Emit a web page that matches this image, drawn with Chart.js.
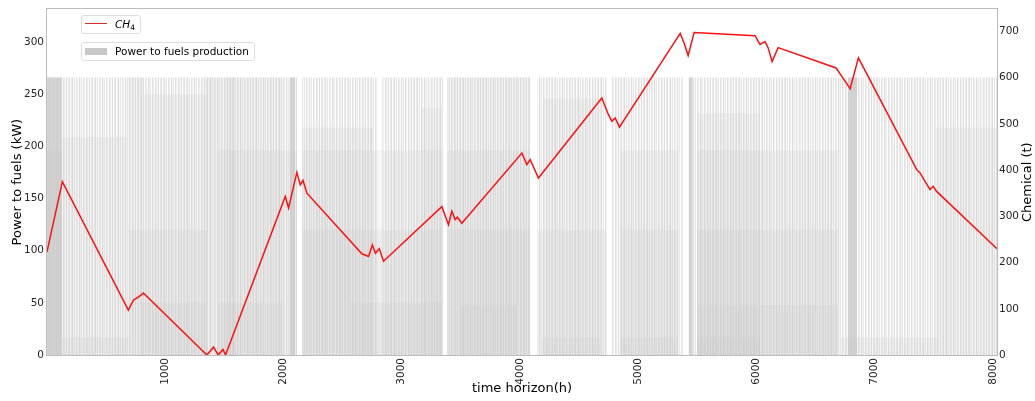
<!DOCTYPE html>
<html>
<head>
<meta charset="utf-8">
<script src="https://cdn.jsdelivr.net/npm/chart.js@4.4.1/dist/chart.umd.min.js"></script>
<style>
  body { margin: 0; background: #fff; }
  #wrap { position: relative; width: 1035px; height: 401px; font-family: "DejaVu Sans", sans-serif; }
  .leg { position: absolute; background: rgba(255,255,255,0.85); border: 1px solid #dedede; border-radius: 3px; box-sizing: border-box; }
  .leg .txt { position: absolute; white-space: nowrap; font-size: 10.5px; line-height: 12px; color: #000; }
</style>
</head>
<body>
<div id="wrap">
  <canvas id="c" width="1035" height="401"></canvas>
  <div class="leg" style="left:81px; top:15px; width:60px; height:19px;">
    <div style="position:absolute; left:3px; top:7px; width:22px; height:1px; background:#e3262b;"></div>
    <div class="txt" style="left:33px; top:2px;"><i>CH</i><span style="font-size:7.5px; position:relative; top:2px;">4</span></div>
  </div>
  <div class="leg" style="left:81px; top:42px; width:174px; height:19px;">
    <div style="position:absolute; left:3px; top:5px; width:22px; height:7px; background:#c8c8c8;"></div>
    <div class="txt" style="left:33px; top:2px;">Power to fuels production</div>
  </div>
</div>
<script>
// Axis ticks
const hourTicks = [1000, 2000, 3000, 4000, 5000, 6000, 7000, 8000];
const kwTicks = [0, 50, 100, 150, 200, 250, 300];
const chemTicks = [0, 100, 200, 300, 400, 500, 600, 700];

// Stored CH4 (t) over the time horizon (h)
const ch4Hour = [0, 130, 688, 732, 775, 815, 1352, 1408, 1448, 1488, 1510,
  2015, 2043, 2113, 2142, 2165, 2198, 2663, 2719, 2752, 2777, 2810, 2846,
  3339, 3395, 3424, 3452, 3471, 3508, 4016, 4058, 4086, 4156,
  4692, 4748, 4777, 4805, 4841, 5355, 5389, 5422, 5473,
  5988, 6030, 6072, 6098, 6132, 6183, 6673, 6729, 6792, 6862,
  7355, 7383, 7467, 7495, 7523, 8034];
const ch4Tonnes = [223, 375, 97, 119, 126, 134, 0, 17, 0, 12, 0,
  343, 318, 395, 368, 378, 350, 219, 213, 238, 220, 230, 203,
  321, 282, 311, 293, 298, 285, 437, 412, 423, 383,
  556, 520, 506, 513, 493, 696, 674, 648, 698,
  691, 672, 678, 665, 635, 665, 621, 600, 576, 643,
  401, 394, 358, 365, 354, 230];

// Power-to-fuels production: spans (h) where the units run up to full output (kW)
const runFrom = [0, 2158, 2835, 3385, 4145, 4775, 5420];
const runTo   = [2117, 2800, 3350, 4086, 4740, 5380, 8034];
const runKW   = [266, 266, 266, 266, 266, 266, 266];

// Spans of continuous full-output operation
const denseFrom = [0, 2050, 5425, 6774];
const denseTo   = [128, 2100, 5460, 6850];
const denseKW   = [266, 266, 266, 266];

// Frequent partial-load plateaus (kW) and their spans (h)
const bandKW   = [196, 209, 17, 266, 250, 120, 50, 266, 266, 50,
                  196, 196, 218, 120, 50, 237, 266, 196, 120, 48,
                  246, 17, 196, 17, 120, 196, 232, 120, 48, 17,
                  17, 218, 120];
const bandFrom = [0, 128, 128, 680, 814, 687, 789, 1330, 1515, 1440,
                  1440, 2158, 2158, 2158, 2560, 3160, 3385, 3385, 3385, 3494,
                  4196, 4187, 4847, 4847, 4847, 5498, 5498, 5498, 5498, 5498,
                  6707, 7510, 4145];
const bandTo   = [128, 680, 687, 820, 1355, 1355, 1355, 2000, 1590, 1998,
                  2117, 3350, 2758, 3340, 3342, 3342, 4086, 4086, 4086, 3976,
                  4677, 4677, 5337, 5337, 5337, 6690, 6030, 6690, 6690, 6030,
                  7526, 8034, 4728];

// Thin vertical hatching for the hourly production bars
function stripePattern() {
  const alphas = [0.55, 0.05, 0.35, 0.6, 0.1, 0.45, 0.0, 0.5, 0.3, 0.05, 0.6, 0.2,
                  0.4, 0.0, 0.55, 0.25, 0.05, 0.5, 0.35, 0.1, 0.6, 0.0, 0.4];
  const c = document.createElement('canvas');
  c.width = alphas.length; c.height = 1;
  const g = c.getContext('2d');
  alphas.forEach((a, i) => { g.fillStyle = 'rgba(200,200,200,' + a + ')'; g.fillRect(i, 0, 1, 1); });
  return g.createPattern(c, 'repeat');
}

function spanDataset(from, to, kw, fill, order) {
  return {
    type: 'line',
    data: [{x: from, y: kw}, {x: to, y: kw}],
    yAxisID: 'y',
    borderWidth: 0,
    borderColor: 'rgba(0,0,0,0)',
    backgroundColor: fill,
    fill: 'origin',
    pointRadius: 0,
    order: order
  };
}

const datasets = [];
const stripes = stripePattern();
runFrom.forEach((f, i) => datasets.push(spanDataset(f, runTo[i], runKW[i], stripes, 5)));
denseFrom.forEach((f, i) => datasets.push(spanDataset(f, denseTo[i], denseKW[i], 'rgba(202,202,202,0.78)', 4)));
bandFrom.forEach((f, i) => datasets.push(spanDataset(f, bandTo[i], bandKW[i], 'rgba(195,195,195,0.16)', 3)));
datasets.push({
  type: 'line',
  label: 'CH4',
  data: ch4Hour.map((h, i) => ({x: h, y: ch4Tonnes[i]})),
  yAxisID: 'y2',
  borderColor: '#ff1010',
  borderWidth: 1.5,
  pointRadius: 0,
  fill: false,
  tension: 0,
  order: 0
});

const tickFont = {family: 'DejaVu Sans', size: 10.5};
const titleFont = {family: 'DejaVu Sans', size: 13};

const framePlugin = {
  id: 'frame',
  afterDraw(chart) {
    const {ctx, chartArea: a} = chart;
    ctx.save();
    ctx.strokeStyle = '#bcbcbc';
    ctx.lineWidth = 1;
    ctx.strokeRect(Math.round(a.left) - 0.5, Math.round(a.top) - 0.5,
                   Math.round(a.right - a.left) + 1, Math.round(a.bottom - a.top) + 1);
    ctx.translate(1028, (a.top + a.bottom) / 2);
    ctx.rotate(-Math.PI / 2);
    ctx.fillStyle = '#000';
    ctx.font = '13px "DejaVu Sans"';
    ctx.textAlign = 'center';
    ctx.textBaseline = 'middle';
    ctx.fillText('Chemical (t)', 0, 0);
    ctx.restore();
  }
};

new Chart(document.getElementById('c'), {
  type: 'line',
  data: {datasets: datasets},
  plugins: [framePlugin],
  options: {
    responsive: false,
    animation: false,
    devicePixelRatio: 1,
    layout: {padding: {top: 9, left: 0, right: 0, bottom: 0}},
    plugins: {legend: {display: false}, tooltip: {enabled: false}},
    scales: {
      x: {
        type: 'linear', min: 0, max: 8034, position: 'bottom',
        grid: {display: false, drawTicks: false}, border: {display: false},
        afterBuildTicks: s => { s.ticks = hourTicks.map(v => ({value: v})); },
        ticks: {autoSkip: false, minRotation: 90, maxRotation: 90, padding: 3, color: '#262626', font: tickFont,
                callback: v => String(v)},
        title: {display: true, text: 'time horizon(h)', color: '#000', font: titleFont, padding: {top: 0, bottom: 5}},
        afterFit: s => { s.height = 46; }
      },
      y: {
        position: 'left', min: 0, max: 331.5,
        grid: {display: false, drawTicks: false}, border: {display: false},
        afterBuildTicks: s => { s.ticks = kwTicks.map(v => ({value: v})); },
        ticks: {padding: 3, color: '#262626', font: tickFont, callback: v => String(v)},
        title: {display: true, text: 'Power to fuels (kW)', color: '#000', font: titleFont, padding: {top: 10, bottom: 0}},
        afterFit: s => { s.width = 47; }
      },
      y2: {
        position: 'right', min: 0, max: 748,
        grid: {display: false, drawTicks: false}, border: {display: false},
        afterBuildTicks: s => { s.ticks = chemTicks.map(v => ({value: v})); },
        ticks: {padding: 2, color: '#262626', font: tickFont, callback: v => String(v)},
        afterFit: s => { s.width = 38; }
      }
    }
  }
});
</script>
</body>
</html>
